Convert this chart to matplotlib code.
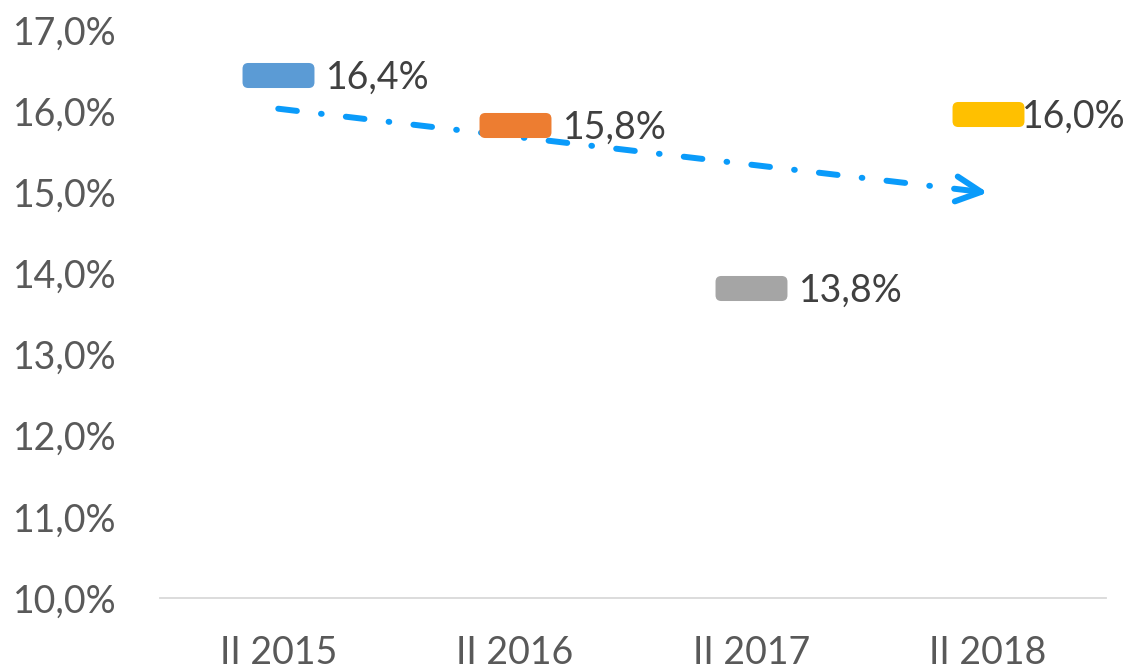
import numpy as np
import matplotlib
matplotlib.use("Agg")
import matplotlib.pyplot as plt
import matplotlib.patches as mpatches
from matplotlib.ticker import FuncFormatter, FixedLocator

plt.rcParams['font.family'] = ['Lato', 'DejaVu Sans']
plt.rcParams['lines.scale_dashes'] = False

# Data (percent)
categories = ['II 2015', 'II 2016', 'II 2017', 'II 2018']
values = [16.44, 15.83, 13.82, 15.96]
colors = ['#5B9BD5', '#ED7D31', '#A5A5A5', '#FFC000']
y_ticks = [10, 11, 12, 13, 14, 15, 16, 17]

def pct(v, pos=None):
    return f"{v:.1f}%".replace('.', ',')

fig = plt.figure(figsize=(11.24, 6.67), dpi=100)
ax = fig.add_axes([160 / 1124, 1 - 598 / 667, 946 / 1124, 568 / 667])

x = np.arange(len(categories))

# rounded-rectangle marker
box = mpatches.BoxStyle.Round(pad=0, rounding_size=0.08)(-0.5, -0.174, 1.0, 0.348, 1.0)

for xi, v, c in zip(x, values, colors):
    ax.plot(xi, v, marker=box, markersize=51.8, color=c, markeredgewidth=0,
            linestyle='none', clip_on=False, zorder=3)

# data labels
for i, (xi, v) in enumerate(zip(x, values)):
    if i == len(values) - 1:
        # Excel pushes the last label back inside the chart area
        ax.annotate(pct(v), xy=(xi, v), xytext=(34, -2.5), textcoords='offset pixels',
                    ha='left', va='center', fontsize=27, color='#404040', zorder=4)
    else:
        ax.annotate(pct(v), xy=(xi, v), xytext=(48, -2.5), textcoords='offset pixels',
                    ha='left', va='center', fontsize=27, color='#404040', zorder=4)

# linear trend line with arrow
slope, intercept = np.polyfit(x, values, 1)
trend_x = np.array([x[0], x[-1]])
trend_y = slope * trend_x + intercept
ax.plot(trend_x, trend_y, color='#0A9BFA', linewidth=4.3,
        linestyle=(0, (13.5, 17.5, 0.5, 17.5)), dash_capstyle='round',
        clip_on=False, zorder=2)
back = 0.06
ax.annotate('', xy=(trend_x[-1], trend_y[-1]),
            xytext=(trend_x[-1] - back, trend_y[-1] - slope * back),
            arrowprops=dict(arrowstyle='->, head_length=0.9, head_width=0.45',
                            mutation_scale=20, color='#0A9BFA', lw=4.3,
                            shrinkA=0, shrinkB=0, capstyle='round', joinstyle='round'),
            zorder=2)

ax.set_xlim(-0.5, len(categories) - 0.5)
ax.set_ylim(10, 17)
ax.set_xticks(x)
ax.set_xticklabels(categories)
ax.yaxis.set_major_locator(FixedLocator(y_ticks))
ax.yaxis.set_major_formatter(FuncFormatter(pct))

for s in ['top', 'right', 'left']:
    ax.spines[s].set_visible(False)
ax.spines['bottom'].set_color('#D9D9D9')
ax.spines['bottom'].set_linewidth(1.3)

ax.tick_params(axis='both', length=0, labelsize=27, labelcolor='#595959')
ax.tick_params(axis='y', pad=31)
ax.tick_params(axis='x', pad=27)

fig.savefig('out.png', dpi=100)
